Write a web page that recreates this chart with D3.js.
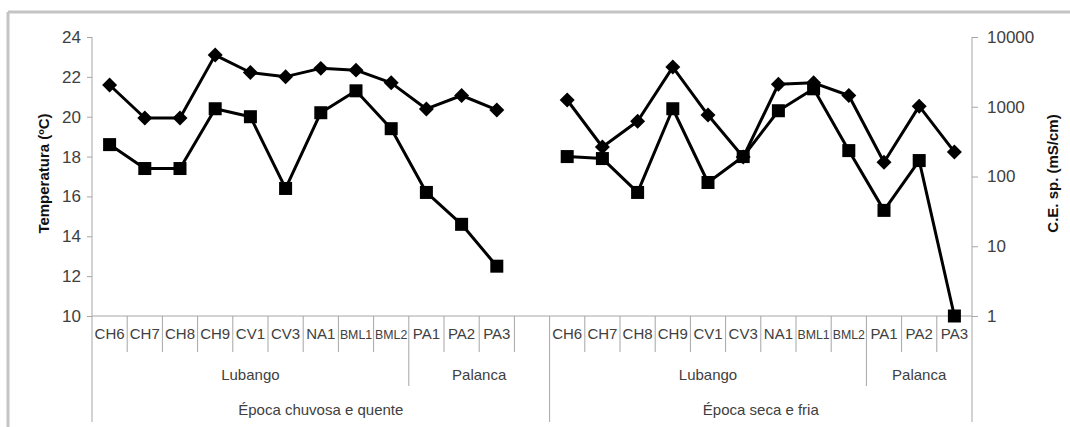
<!DOCTYPE html>
<html>
<head>
<meta charset="utf-8">
<script src="https://cdn.jsdelivr.net/npm/d3@7/dist/d3.min.js"></script>
<style>
  html, body { margin: 0; padding: 0; background: #fff; }
  svg { display: block; }
  .tick-label { font-family: "Liberation Sans Narrow", "Arial Narrow", "Liberation Sans", sans-serif; fill: #404040; }
  .title { font-family: "Liberation Sans", Arial, sans-serif; font-weight: bold; fill: #111; }
</style>
</head>
<body>
<svg id="chart" width="1070" height="427"></svg>
<script>
// Sampling sites (same list for both seasons)
const sites = ["CH6", "CH7", "CH8", "CH9", "CV1", "CV3", "NA1", "BML1", "BML2", "PA1", "PA2", "PA3"];
const siteRegion = ["Lubango", "Lubango", "Lubango", "Lubango", "Lubango", "Lubango", "Lubango", "Lubango", "Lubango", "Palanca", "Palanca", "Palanca"];
const seasons = ["Época chuvosa e quente", "Época seca e fria"];

// Temperature (ºC) — square markers, left axis
const tempRainy = [18.6, 17.4, 17.4, 20.4, 20.0, 16.4, 20.2, 21.3, 19.4, 16.2, 14.6, 12.5];
const tempDry   = [18.0, 17.9, 16.2, 20.4, 16.7, 18.0, 20.3, 21.4, 18.3, 15.3, 17.8, 10.0];

// Specific electrical conductivity (mS/cm) — diamond markers, right log axis
const ceRainy = [2050, 690, 690, 5500, 3100, 2700, 3550, 3350, 2200, 930, 1450, 900];
const ceDry   = [1250, 265, 620, 3700, 760, 190, 2100, 2200, 1450, 160, 1020, 225];

// Axis ticks
const leftTicks = [10, 12, 14, 16, 18, 20, 22, 24];
const rightTicks = [1, 10, 100, 1000, 10000];

// Build the category sequence: season 1 sites, one empty slot, season 2 sites
const categories = [];
sites.forEach((s, i) => categories.push({ key: "a" + i, site: s, region: siteRegion[i], season: 0, temp: tempRainy[i], ce: ceRainy[i] }));
categories.push({ key: "gap", site: "", region: "Palanca", season: 0, temp: null, ce: null });
sites.forEach((s, i) => categories.push({ key: "b" + i, site: s, region: siteRegion[i], season: 1, temp: tempDry[i], ce: ceDry[i] }));

const svg = d3.select("#chart");
const plotL = 92, plotR = 972, plotT = 37, plotB = 316;

const x = d3.scaleBand().domain(categories.map(d => d.key)).range([plotL, plotR]).padding(0);
const yT = d3.scaleLinear().domain([10, 24]).range([plotB, plotT]);
const yC = d3.scaleLog().domain([1, 10000]).range([plotB, plotT]);

const axisColor = "#a6a6a6";

// Outer frame
svg.append("line").attr("x1", 8).attr("x2", 1070).attr("y1", 12).attr("y2", 12)
  .attr("stroke", "#c4c4c4").attr("stroke-width", 3);
svg.append("line").attr("x1", 8).attr("x2", 8).attr("y1", 12).attr("y2", 427)
  .attr("stroke", "#c4c4c4").attr("stroke-width", 3);

// Left axis
const gL = svg.append("g").attr("transform", `translate(${plotL},0)`)
  .call(d3.axisLeft(yT).tickValues(leftTicks).tickSize(5).tickPadding(6).tickFormat(d3.format("d")));
gL.select(".domain").remove();
gL.selectAll(".tick line").attr("stroke", axisColor);
gL.selectAll(".tick text").attr("class", "tick-label").style("font-size", "17px");
svg.append("line").attr("x1", plotL).attr("x2", plotL).attr("y1", plotT).attr("y2", 422).attr("stroke", axisColor);

// Right axis
const gR = svg.append("g").attr("transform", `translate(${plotR},0)`)
  .call(d3.axisRight(yC).tickValues(rightTicks).tickSize(6).tickPadding(9).tickFormat(d3.format("d")));
gR.select(".domain").remove();
gR.selectAll(".tick line").attr("stroke", axisColor);
gR.selectAll(".tick text").attr("class", "tick-label").style("font-size", "17px");
svg.append("line").attr("x1", plotR).attr("x2", plotR).attr("y1", plotT).attr("y2", 422).attr("stroke", axisColor);

// Category axis line
svg.append("line").attr("x1", plotL).attr("x2", plotR).attr("y1", plotB).attr("y2", plotB).attr("stroke", axisColor);

// Site level: separators and labels
const bw = x.bandwidth();
categories.forEach((d, i) => {
  const x0 = x(d.key);
  if (i > 0) {
    const prev = categories[i - 1];
    let y2 = 352;
    if (prev.season !== d.season) y2 = 422;
    else if (prev.region !== d.region) y2 = 386;
    svg.append("line").attr("x1", x0).attr("x2", x0).attr("y1", plotB).attr("y2", y2).attr("stroke", axisColor);
  }
  if (d.site) {
    const t = svg.append("text").attr("class", "tick-label")
      .attr("x", x0 + bw / 2).attr("y", 339).attr("text-anchor", "middle")
      .style("font-size", "15px").text(d.site);
    // shrink labels that would spill past their slot
    const w = t.node().getComputedTextLength();
    if (w > bw - 3) t.style("font-size", (15 * (bw - 3) / w).toFixed(2) + "px");
  }
});

// Region level labels
const regionGroups = d3.groups(categories, d => d.season + "|" + d.region);
regionGroups.forEach(([k, items]) => {
  const x0 = x(items[0].key), x1 = x(items[items.length - 1].key) + bw;
  svg.append("text").attr("class", "tick-label")
    .attr("x", (x0 + x1) / 2).attr("y", 380).attr("text-anchor", "middle")
    .style("font-size", "15px").text(items[0].region);
});

// Season level labels
seasons.forEach((s, si) => {
  const items = categories.filter(d => d.season === si);
  const x0 = x(items[0].key), x1 = x(items[items.length - 1].key) + bw;
  svg.append("text").attr("class", "tick-label")
    .attr("x", (x0 + x1) / 2).attr("y", 415).attr("text-anchor", "middle")
    .style("font-size", "15px").text(s);
});

// Axis titles
svg.append("text").attr("class", "title")
  .attr("transform", `translate(49,${(plotT + plotB) / 2 - 3}) rotate(-90)`)
  .attr("text-anchor", "middle").style("font-size", "15px").text("Temperatura (ºC)");
svg.append("text").attr("class", "title")
  .attr("transform", `translate(1058,${(plotT + plotB) / 2 - 3}) rotate(-90)`)
  .attr("text-anchor", "middle").style("font-size", "15px").text("C.E. sp. (mS/cm)");

const cx = d => x(d.key) + bw / 2;

// Conductivity series (diamonds)
const ceLine = d3.line().defined(d => d.ce != null).x(cx).y(d => yC(d.ce));
svg.append("path").datum(categories).attr("d", ceLine)
  .attr("fill", "none").attr("stroke", "#000").attr("stroke-width", 3).attr("stroke-linejoin", "round");
svg.selectAll(".dia").data(categories.filter(d => d.ce != null)).enter().append("path")
  .attr("transform", d => `translate(${cx(d)},${yC(d.ce)}) rotate(45)`)
  .attr("d", "M-5.3,-5.3H5.3V5.3H-5.3Z").attr("fill", "#000");

// Temperature series (squares)
const tLine = d3.line().defined(d => d.temp != null).x(cx).y(d => yT(d.temp));
svg.append("path").datum(categories).attr("d", tLine)
  .attr("fill", "none").attr("stroke", "#000").attr("stroke-width", 3).attr("stroke-linejoin", "round");
svg.selectAll(".sq").data(categories.filter(d => d.temp != null)).enter().append("rect")
  .attr("x", d => cx(d) - 6.5).attr("y", d => yT(d.temp) - 6.5)
  .attr("width", 13).attr("height", 13).attr("fill", "#000");
</script>
</body>
</html>
